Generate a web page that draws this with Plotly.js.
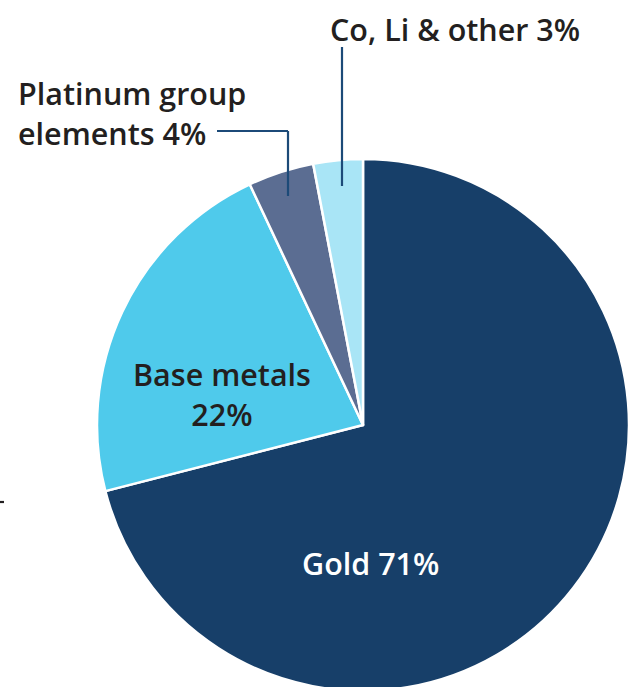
<!DOCTYPE html>
<html>
<head>
<meta charset="utf-8">
<script src="https://cdn.plot.ly/plotly-3.0.1.min.js"></script>
<style>
html,body{margin:0;padding:0;overflow:hidden;background:#fff;}
#chart{width:634px;height:700px;}
</style>
</head>
<body>
<div id="chart"></div>
<script>
var categories = ["Gold", "Base metals", "Platinum group elements", "Co, Li & other"];
var shares = [71, 22, 4, 3];
var sliceColors = ["#173f69", "#4fcaeb", "#5b6d92", "#a9e5f6"];

var W = 634, H = 700;
function px(x){ return x / W; }
function py(y){ return 1 - y / H; }

var cx = 363, cy = 425, R = 266;

var trace = {
  type: "pie",
  labels: categories,
  values: shares,
  sort: false,
  direction: "clockwise",
  rotation: 0,
  textinfo: "none",
  hoverinfo: "label+percent",
  marker: {colors: sliceColors, line: {color: "#ffffff", width: 2.5}},
  domain: {x: [px(cx - R), px(cx + R)], y: [py(cy + R), py(cy - R)]},
  showlegend: false
};

var fontFam = "'Open Sans', Lato, sans-serif";
var dark = "#231f20";
var lineCol = "#1c4a78";

var annotations = [
  {text: categories[0] + " " + shares[0] + "%", x: px(370), y: py(563), color: "#ffffff", align: "center", xanchor: "center"},
  {text: categories[1] + "<br>" + shares[1] + "%", x: px(222), y: py(394), color: dark, align: "center", xanchor: "center"},
  {text: categories[3] + " " + shares[3] + "%", x: px(455), y: py(29), color: dark, align: "center", xanchor: "center"},
  {text: "Platinum group<br>elements " + shares[2] + "%", x: px(16), y: py(113), color: dark, align: "left", xanchor: "left"}
].map(function(a){
  return {
    text: a.text, x: a.x, y: a.y, xref: "paper", yref: "paper",
    xanchor: a.xanchor, yanchor: "middle", align: a.align, showarrow: false,
    font: {family: fontFam, size: 30.5, color: a.color, weight: 600}
  };
});

var shapes = [
  {type: "line", x0: px(342), x1: px(342), y0: py(47), y1: py(186)},
  {type: "line", x0: px(217), x1: px(288), y0: py(131), y1: py(131)},
  {type: "line", x0: px(288), x1: px(288), y0: py(131), y1: py(196)},
  {type: "line", x0: px(0), x1: px(4), y0: py(502), y1: py(502), c: dark}
].map(function(s){
  return {type: "line", xref: "paper", yref: "paper", x0: s.x0, x1: s.x1, y0: s.y0, y1: s.y1,
    line: {color: s.c || lineCol, width: 2.2}};
});

var layout = {
  width: W, height: H,
  margin: {l: 0, r: 0, t: 0, b: 0},
  paper_bgcolor: "#ffffff",
  plot_bgcolor: "#ffffff",
  annotations: annotations,
  shapes: shapes
};

Plotly.newPlot("chart", [trace], layout, {displayModeBar: false, staticPlot: true});
</script>
</body>
</html>
